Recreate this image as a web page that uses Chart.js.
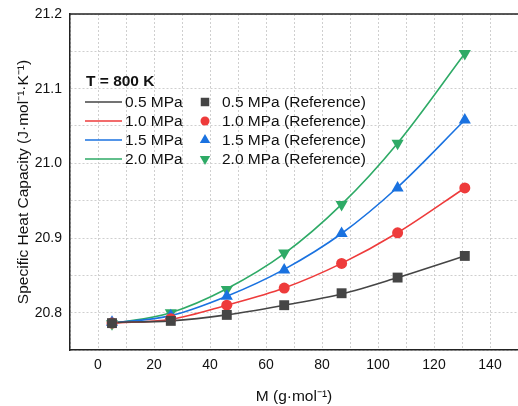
<!DOCTYPE html>
<html>
<head>
<meta charset="utf-8">
<script src="https://cdn.jsdelivr.net/npm/chart.js@4"></script>
<style>
  body { margin: 0; background: #fff; }
  #wrap { width: 518px; height: 406px; }
</style>
</head>
<body>
<div id="wrap"><canvas id="chart" width="518" height="406"></canvas></div>
<script>
// molar mass of the mixtures
const massValues = [5, 26, 46, 66.5, 87, 107, 131];

// specific heat capacity, one array per pressure
const cp05 = [20.787, 20.789, 20.797, 20.810, 20.825, 20.847, 20.876];
const cp10 = [20.786, 20.791, 20.810, 20.833, 20.866, 20.907, 20.967];
const cp15 = [20.786, 20.796, 20.822, 20.858, 20.906, 20.968, 21.058];
const cp20 = [20.785, 20.800, 20.832, 20.879, 20.945, 21.027, 21.147];

// reference points
const ref05 = [20.786, 20.789, 20.797, 20.810, 20.826, 20.847, 20.876];
const ref10 = [20.786, 20.792, 20.810, 20.833, 20.866, 20.907, 20.967];
const ref15 = [20.787, 20.796, 20.822, 20.857, 20.906, 20.967, 21.058];
const ref20 = [20.785, 20.800, 20.831, 20.880, 20.945, 21.027, 21.147];

const pressures = ["0.5 MPa", "1.0 MPa", "1.5 MPa", "2.0 MPa"];
const colors = ["#454545", "#ee3b3b", "#1a72e0", "#2eaa66"];

const xTickLabels = [0, 20, 40, 60, 80, 100, 120, 140];
const yTickLabels = [20.8, 20.9, 21.0, 21.1, 21.2];

const FONT = "'Liberation Sans', Arial, sans-serif";

function pts(ys) {
  return massValues.map((x, i) => ({ x: x, y: ys[i] }));
}

const lineSets = [cp05, cp10, cp15, cp20].map((d, i) => ({
  label: pressures[i],
  data: pts(d),
  showLine: true,
  borderColor: colors[i],
  backgroundColor: colors[i],
  borderWidth: 1.6,
  pointRadius: 0,
  cubicInterpolationMode: "monotone",
  order: 2
}));

const markerStyles = [
  { style: "rect", radius: 7, rot: 0 },
  { style: "circle", radius: 5.5, rot: 0 },
  { style: "triangle", radius: 7, rot: 0 },
  { style: "triangle", radius: 7, rot: 180 }
];

const refSets = [ref05, ref10, ref15, ref20].map((d, i) => ({
  label: pressures[i] + " (Reference)",
  data: pts(d),
  showLine: false,
  borderColor: colors[i],
  backgroundColor: colors[i],
  pointStyle: markerStyles[i].style,
  pointRadius: markerStyles[i].radius,
  pointRotation: markerStyles[i].rot,
  pointBorderWidth: 0,
  order: 1
}));

// top edge of the frame
const framePlugin = {
  id: "frame",
  afterDraw(chart) {
    const { ctx, chartArea: a } = chart;
    ctx.save();
    ctx.strokeStyle = "#222";
    ctx.lineWidth = 1.5;
    ctx.beginPath();
    ctx.moveTo(a.left, a.top);
    ctx.lineTo(a.right, a.top);
    ctx.stroke();
    ctx.restore();
  }
};

// two column legend inside the plot
const legendPlugin = {
  id: "innerLegend",
  afterDraw(chart) {
    const ctx = chart.ctx;
    ctx.save();
    ctx.fillStyle = "#111";
    ctx.textBaseline = "middle";
    ctx.textAlign = "left";
    ctx.font = "bold 15.5px " + FONT;
    ctx.fillText("T = 800 K", 86, 82);
    ctx.font = "15.5px " + FONT;
    for (let i = 0; i < 4; i++) {
      const y = 102 + i * 19;
      ctx.strokeStyle = colors[i];
      ctx.lineWidth = 1.6;
      ctx.beginPath();
      ctx.moveTo(85, y);
      ctx.lineTo(122, y);
      ctx.stroke();
      ctx.fillStyle = "#111";
      ctx.fillText(pressures[i], 125, y + 1);
      ctx.fillStyle = colors[i];
      ctx.strokeStyle = colors[i];
      Chart.helpers.drawPoint(ctx, {
        pointStyle: markerStyles[i].style,
        radius: markerStyles[i].radius - 1,
        rotation: markerStyles[i].rot,
        borderWidth: 0
      }, 205, y);
      ctx.fillStyle = "#111";
      ctx.fillText(pressures[i] + " (Reference)", 222, y + 1);
    }
    ctx.restore();
  }
};

new Chart(document.getElementById("chart"), {
  type: "scatter",
  data: { datasets: [...lineSets, ...refSets] },
  options: {
    responsive: false,
    animation: false,
    layout: { autoPadding: false, padding: { top: 14, right: 0, left: 0, bottom: 0 } },
    plugins: { legend: { display: false }, tooltip: { enabled: false } },
    scales: {
      x: {
        type: "linear",
        min: -10,
        max: 150,
        afterFit(s) { s.height = 56; s.paddingLeft = 0; s.paddingRight = 0; },
        ticks: {
          stepSize: 10,
          padding: 7,
          color: "#111",
          font: { family: FONT, size: 14 },
          maxRotation: 0,
          autoSkip: false,
          callback: v => xTickLabels.includes(v) ? String(v) : ""
        },
        grid: { color: "#cfcfcf", drawTicks: false, lineWidth: 1 },
        border: { color: "#222", width: 1.5, dash: [2, 2] },
        title: {
          display: true,
          text: "M (g·mol⁻¹)",
          color: "#111",
          font: { family: FONT, size: 15.5 },
          padding: { top: 7, bottom: 0 }
        }
      },
      y: {
        min: 20.75,
        max: 21.2,
        afterFit(s) { s.width = 70; s.paddingTop = 0; s.paddingBottom = 0; },
        ticks: {
          stepSize: 0.05,
          padding: 8,
          color: "#111",
          font: { family: FONT, size: 14 },
          autoSkip: false,
          callback: v => {
            const r = Math.round(v * 100) / 100;
            return yTickLabels.some(t => Math.abs(t - r) < 1e-6) ? r.toFixed(1) : "";
          }
        },
        grid: { color: "#cfcfcf", drawTicks: false, lineWidth: 1 },
        border: { color: "#222", width: 1.5, dash: [2, 2] },
        title: {
          display: true,
          text: "Specific Heat Capacity (J·mol⁻¹·K⁻¹)",
          color: "#111",
          font: { family: FONT, size: 15.5 },
          padding: { top: 14, bottom: 0 }
        }
      }
    }
  },
  plugins: [framePlugin, legendPlugin]
});
</script>
</body>
</html>
